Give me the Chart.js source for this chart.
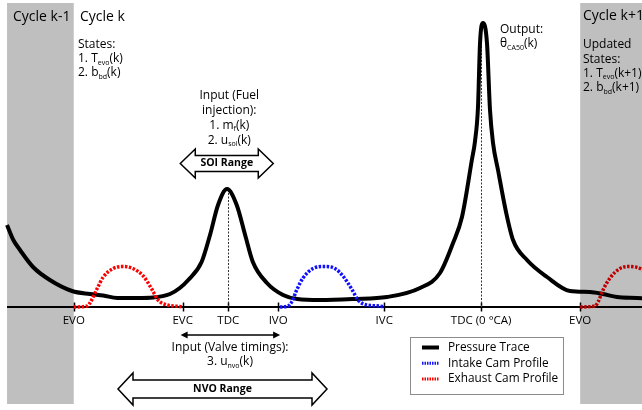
<!DOCTYPE html>
<html>
<head>
<meta charset="utf-8">
<script src="https://cdn.jsdelivr.net/npm/chart.js@4.4.1/dist/chart.umd.min.js"></script>
<style>
  html, body { margin: 0; padding: 0; background: #fff; }
  #wrap { position: relative; width: 642px; height: 410px; }
</style>
</head>
<body>
<div id="wrap"><canvas id="chart"></canvas></div>
<script>
// crank angle in deg (combustion TDC = 0), heights are relative units above the axis
const pressureAngle = [-675, -666, -656.5, -638, -614, -582.5, -557, -538, -518, -490, -467, -443, -429, -417,
  -398, -386, -374.6, -361.8, -348, -336, -325, -305, -282, -262, -229, -182, -134, -87, -58.6, -40, -27.3,
  -13, -8.7, -4.5, -1.6, 2.6, 8.3, 12.6, 16.9, 24, 35.4, 45.4, 65.3, 93.8, 126.5, 155, 173.5, 193.4, 222, 233];
const pressureValue = [82, 67, 57, 40, 27, 16, 13, 11.5, 9, 9, 9.5, 13, 19, 27,
  45, 72, 102, 118, 102, 72, 45, 24, 12, 8, 7, 8, 10, 19, 34, 64, 90,
  148, 166, 200, 264, 284, 264, 197, 164, 137, 95, 67, 47, 30, 16, 15, 13, 10, 9, 8.5];

const exhaustAngle = [-580, -561, -557, -547, -538, -524, -510, -496, -481, -469, -460, -447, -429, -425];
const exhaustLift = [0, 1, 4, 18, 30, 38.5, 40.5, 38.5, 31, 18, 7, 2, 0.5, 0];

const intakeAngle = [-286.4, -275, -269.7, -262.6, -253.6, -239.4, -222.3, -208.1, -196.7, -184.3, -175.3, -163, -139.7, -138.3];
const intakeLift = [0, 1, 5, 17, 29, 38.5, 40.5, 38.5, 31, 18, 7, 2, 0.5, 0];

const exhaustNextAngle = [141, 162, 166.4, 173.5, 183.5, 197.7, 211.9, 226.2, 240, 249];
const exhaustNextLift = [0, 1, 5, 17, 29, 38.5, 40.5, 38.5, 31, 18];

const eventAngles = [-580, -425, -360, -289, -138, 0, 141];
const eventLabels = ['EVO', 'EVC', 'TDC', 'IVO', 'IVC', 'TDC (0 °CA)', 'EVO'];
const tdcAngles = [-360, 0];
const traceStart = -675;
const shadeLeft = [-675, -580];
const shadeRight = [141, 229];
const legendLabels = ['Pressure Trace', 'Intake Cam Profile', 'Exhaust Cam Profile'];

const FONT = '"Open Sans", sans-serif';
const RED = '#ff0000';
const BLUE = '#1010ff';

function pts(xs, ys) {
  return xs.map((x, i) => ({ x: x, y: ys[i] }));
}

// text with _{sub} parts
function drawRich(ctx, str, x, y, size, align, weight) {
  const parts = str.split(/_\{([^}]*)\}/);
  const subSize = Math.round(size * 0.6);
  const w = weight || 'normal';
  let total = 0;
  parts.forEach((p, i) => {
    ctx.font = `${w} ${i % 2 ? subSize : size}px ${FONT}`;
    total += ctx.measureText(p).width;
  });
  let cx = x;
  if (align === 'center') cx = x - total / 2;
  ctx.textAlign = 'left';
  ctx.textBaseline = 'middle';
  ctx.fillStyle = '#000';
  parts.forEach((p, i) => {
    const sub = i % 2 === 1;
    ctx.font = `${w} ${sub ? subSize : size}px ${FONT}`;
    ctx.fillText(p, cx, sub ? y + size * 0.32 : y);
    cx += ctx.measureText(p).width;
  });
}

function hollowArrow(ctx, x1, x2, cy, shaftH, headH, headL, label) {
  ctx.beginPath();
  ctx.moveTo(x1, cy);
  ctx.lineTo(x1 + headL, cy - headH);
  ctx.lineTo(x1 + headL, cy - shaftH);
  ctx.lineTo(x2 - headL, cy - shaftH);
  ctx.lineTo(x2 - headL, cy - headH);
  ctx.lineTo(x2, cy);
  ctx.lineTo(x2 - headL, cy + headH);
  ctx.lineTo(x2 - headL, cy + shaftH);
  ctx.lineTo(x1 + headL, cy + shaftH);
  ctx.lineTo(x1 + headL, cy + headH);
  ctx.closePath();
  ctx.fillStyle = '#fff';
  ctx.fill();
  ctx.lineWidth = 1.5;
  ctx.strokeStyle = '#000';
  ctx.setLineDash([]);
  ctx.stroke();
  drawRich(ctx, label, (x1 + x2) / 2, cy, 10.5, 'center', 'bold');
}

function thinArrow(ctx, x1, x2, y) {
  ctx.strokeStyle = '#000';
  ctx.fillStyle = '#000';
  ctx.lineWidth = 1.5;
  ctx.setLineDash([]);
  ctx.beginPath();
  ctx.moveTo(x1 + 4, y);
  ctx.lineTo(x2 - 4, y);
  ctx.stroke();
  [[x1, 1], [x2, -1]].forEach(([x, d]) => {
    ctx.beginPath();
    ctx.moveTo(x, y);
    ctx.lineTo(x + 7 * d, y - 3.5);
    ctx.lineTo(x + 7 * d, y + 3.5);
    ctx.closePath();
    ctx.fill();
  });
}

const schematic = {
  id: 'schematic',
  beforeDatasetsDraw(chart) {
    const { ctx, scales: { x, y }, chartArea } = chart;
    const y0 = y.getPixelForValue(0);
    ctx.save();
    // axis
    ctx.strokeStyle = '#000';
    ctx.lineWidth = 2;
    ctx.beginPath();
    ctx.moveTo(x.getPixelForValue(traceStart), y0);
    ctx.lineTo(chartArea.right, y0);
    ctx.stroke();
    // event ticks
    ctx.lineWidth = 1.5;
    eventAngles.forEach(a => {
      const px = Math.round(x.getPixelForValue(a)) + 0.5;
      ctx.beginPath();
      ctx.moveTo(px, y0 - 4.5);
      ctx.lineTo(px, y0 + 4.5);
      ctx.stroke();
    });
    // TDC dotted lines up to the local peak
    ctx.lineWidth = 1;
    ctx.strokeStyle = '#333';
    ctx.setLineDash([2, 1.5]);
    tdcAngles.forEach(a => {
      let peak = 0;
      pressureAngle.forEach((pa, i) => {
        if (Math.abs(pa - a) < 15) peak = Math.max(peak, pressureValue[i]);
      });
      const px = Math.round(x.getPixelForValue(a)) + 0.5;
      ctx.beginPath();
      ctx.moveTo(px, y0);
      ctx.lineTo(px, y.getPixelForValue(peak));
      ctx.stroke();
    });
    ctx.restore();
  },
  afterDatasetsDraw(chart) {
    const { ctx, scales: { x, y } } = chart;
    const y0 = y.getPixelForValue(0);
    ctx.save();
    // previous / next cycle shading
    ctx.fillStyle = 'rgba(0,0,0,0.25)';
    [shadeLeft, shadeRight].forEach(([a, b]) => {
      const l = x.getPixelForValue(a);
      const r = x.getPixelForValue(b);
      ctx.fillRect(l, 3, r - l, 401);
    });

    // event labels
    eventAngles.forEach((a, i) => {
      drawRich(ctx, eventLabels[i], x.getPixelForValue(a), y0 + 14, 11.5, 'center');
    });

    // cycle headers
    drawRich(ctx, 'Cycle k-1', 13, 17, 14, 'left');
    drawRich(ctx, 'Cycle k', 80, 17, 14, 'left');
    drawRich(ctx, 'Cycle k+1', 583, 16, 14, 'left');

    const left = ['States:', '1. T_{evo}(k)', '2. b_{bd}(k)'];
    left.forEach((t, i) => drawRich(ctx, t, 78, 45 + i * 14, 12, 'left'));

    const right = ['Updated', 'States:', '1. T_{evo}(k+1)', '2. b_{bd}(k+1)'];
    right.forEach((t, i) => drawRich(ctx, t, 583, 45 + i * 14.3, 12, 'left'));

    drawRich(ctx, 'Output:', 500, 30, 12, 'left');
    drawRich(ctx, 'θ_{CA50}(k)', 500, 44, 12, 'left');

    const fuel = ['Input (Fuel', 'injection):', '1. m_{f}(k)', '2. u_{soi}(k)'];
    const tdcX = x.getPixelForValue(tdcAngles[0]);
    fuel.forEach((t, i) => drawRich(ctx, t, tdcX + 1, 96 + i * 14.7, 12, 'center'));
    hollowArrow(ctx, tdcX - 48, tdcX + 45, 163.5, 8, 14.5, 15, 'SOI Range');

    // valve timing input
    thinArrow(ctx, x.getPixelForValue(eventAngles[1]) - 2, x.getPixelForValue(eventAngles[3]) + 2, 335);
    drawRich(ctx, 'Input (Valve timings):', 230, 348, 12, 'center');
    drawRich(ctx, '3. u_{nvo}(k)', 230, 362, 12, 'center');
    hollowArrow(ctx, 118, 327, 389, 9, 16, 15, 'NVO Range');

    // legend
    ctx.fillStyle = '#fff';
    ctx.fillRect(410, 337, 153, 57);
    ctx.strokeStyle = '#8c8c8c';
    ctx.lineWidth = 1;
    ctx.strokeRect(410.5, 337.5, 153, 57);
    const styles = [['#000', []], [BLUE, [1.5, 1]], [RED, [1.5, 1]]];
    legendLabels.forEach((t, i) => {
      const ly = 347.5 + i * 15.7;
      ctx.strokeStyle = styles[i][0];
      ctx.setLineDash(styles[i][1]);
      ctx.lineWidth = i === 0 ? 4 : 3;
      ctx.beginPath();
      ctx.moveTo(422, ly);
      ctx.lineTo(439, ly);
      ctx.stroke();
      ctx.setLineDash([]);
      drawRich(ctx, t, 448, ly, 11.8, 'left');
    });
    ctx.restore();
  }
};

const camStyle = {
  borderWidth: 3.5,
  borderDash: [2.5, 1.5],
  borderCapStyle: 'butt',
  pointRadius: 0,
  fill: false,
  cubicInterpolationMode: 'monotone'
};

new Chart(document.getElementById('chart'), {
  type: 'line',
  data: {
    datasets: [
      Object.assign({ label: 'Intake Cam Profile', data: pts(intakeAngle, intakeLift), borderColor: BLUE }, camStyle),
      Object.assign({ label: 'Exhaust Cam Profile', data: pts(exhaustAngle, exhaustLift), borderColor: RED }, camStyle),
      Object.assign({ label: 'Exhaust Cam Profile (k+1)', data: pts(exhaustNextAngle, exhaustNextLift), borderColor: RED }, camStyle),
      {
        label: 'Pressure Trace',
        data: pts(pressureAngle, pressureValue),
        borderColor: '#000',
        borderWidth: 4,
        pointRadius: 0,
        fill: false,
        cubicInterpolationMode: 'monotone'
      }
    ]
  },
  options: {
    responsive: true,
    maintainAspectRatio: false,
    animation: false,
    layout: { padding: 0 },
    scales: {
      x: { type: 'linear', min: -685, max: 229, display: false },
      y: { min: -103, max: 307, display: false }
    },
    plugins: {
      legend: { display: false },
      tooltip: { enabled: false }
    }
  },
  plugins: [schematic]
});
</script>
</body>
</html>
